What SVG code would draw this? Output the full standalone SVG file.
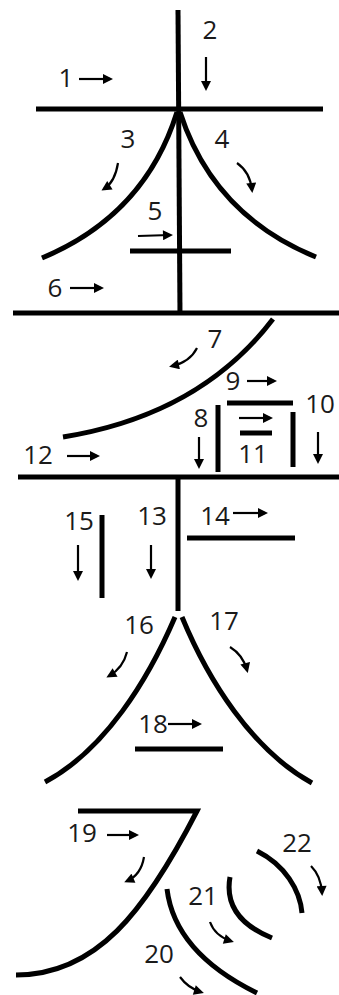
<svg xmlns="http://www.w3.org/2000/svg" width="339" height="995" viewBox="0 0 339 995">
<style>
.s{fill:none;stroke:#000;stroke-width:5;stroke-linecap:butt;stroke-linejoin:miter}
.a{fill:none;stroke:#000;stroke-width:2.2;marker-end:url(#ah)}
.t{font-family:"Open Sans","Liberation Sans",sans-serif;font-size:26px;fill:#1a1a1a;text-anchor:middle}
</style>
<defs>
<marker id="ah" viewBox="0 0 10 10" refX="7" refY="5" markerUnits="userSpaceOnUse" markerWidth="11" markerHeight="10" orient="auto">
<path d="M0,0 L10,5 L0,10 z" fill="#000"/>
</marker>
</defs>
<rect width="339" height="995" fill="#fff"/>
<g id="stroke-1"><path class="s" d="M36,109 H323"/><text class="t" x="66" y="87">1</text><path class="a" d="M79,79 H110"/></g>
<g id="stroke-2"><path class="s" d="M178,10 L180,315"/><text class="t" x="210" y="39">2</text><path class="a" d="M206,57 V88"/></g>
<g id="stroke-3"><path class="s" d="M177,112 Q145,215 42,258"/><text class="t" x="128" y="148">3</text><path class="a" d="M118,163 Q115,182 104,189"/></g>
<g id="stroke-4"><path class="s" d="M180,112 Q213,215 316,257"/><text class="t" x="222" y="148">4</text><path class="a" d="M237,163 Q250,172 252,190"/></g>
<g id="stroke-5"><path class="s" d="M130,251 H231"/><text class="t" x="155" y="220">5</text><path class="a" d="M138,236 L170,235"/></g>
<g id="stroke-6"><path class="s" d="M13,313 H339"/><text class="t" x="55" y="297">6</text><path class="a" d="M70,288 H101"/></g>
<g id="stroke-7"><path class="s" d="M273,319 Q200,415 63,437"/><text class="t" x="215" y="348">7</text><path class="a" d="M197,348 Q190,362 172,366"/></g>
<g id="stroke-8"><path class="s" d="M218,405 V472"/><text class="t" x="201" y="427">8</text><path class="a" d="M199,437 V466"/></g>
<g id="stroke-9"><path class="s" d="M227,403 H293"/><text class="t" x="233" y="390">9</text><path class="a" d="M247,381 H274"/></g>
<g id="stroke-10"><path class="s" d="M293,412 V467"/><text class="t" x="320" y="413">10</text><path class="a" d="M318,432 V461"/></g>
<g id="stroke-11"><path class="s" d="M240,433 H272"/><text class="t" x="253" y="463">11</text><path class="a" d="M239,418 H270"/></g>
<g id="stroke-12"><path class="s" d="M18,477 H339"/><text class="t" x="38" y="464">12</text><path class="a" d="M67,456 H97"/></g>
<g id="stroke-13"><path class="s" d="M178,477 V611"/><text class="t" x="152" y="525">13</text><path class="a" d="M151,545 V576"/></g>
<g id="stroke-14"><path class="s" d="M187,538 H295"/><text class="t" x="215" y="525">14</text><path class="a" d="M233,513 H265"/></g>
<g id="stroke-15"><path class="s" d="M102,515 V598"/><text class="t" x="79" y="530">15</text><path class="a" d="M78,545 V578"/></g>
<g id="stroke-16"><path class="s" d="M175,617 C148,680 105,750 45,782"/><text class="t" x="139" y="634">16</text><path class="a" d="M127,652 Q123,668 109,676"/></g>
<g id="stroke-17"><path class="s" d="M182,617 C208,680 252,750 312,783"/><text class="t" x="224" y="630">17</text><path class="a" d="M230,647 Q243,655 247,670"/></g>
<g id="stroke-18"><path class="s" d="M135,749 H223"/><text class="t" x="153" y="733">18</text><path class="a" d="M168,724 H199"/></g>
<g id="stroke-19"><path class="s" d="M78,811 H197 C145,912 96,975 16,975"/><text class="t" x="82" y="842">19</text><path class="a" d="M107,835 H136"/><path class="a" d="M144,857 Q141,875 127,881"/></g>
<g id="stroke-20"><path class="s" d="M167,889 C172,930 200,965 257,993"/><text class="t" x="159" y="963">20</text><path class="a" d="M180,977 Q188,988 201,992"/></g>
<g id="stroke-21"><path class="s" d="M230,877 C225,905 240,925 272,938"/><text class="t" x="203" y="905">21</text><path class="a" d="M210,922 Q215,936 231,941"/></g>
<g id="stroke-22"><path class="s" d="M257,851 C285,865 300,890 302,913"/><text class="t" x="297" y="852">22</text><path class="a" d="M311,866 Q321,876 322,893"/></g>
</svg>
